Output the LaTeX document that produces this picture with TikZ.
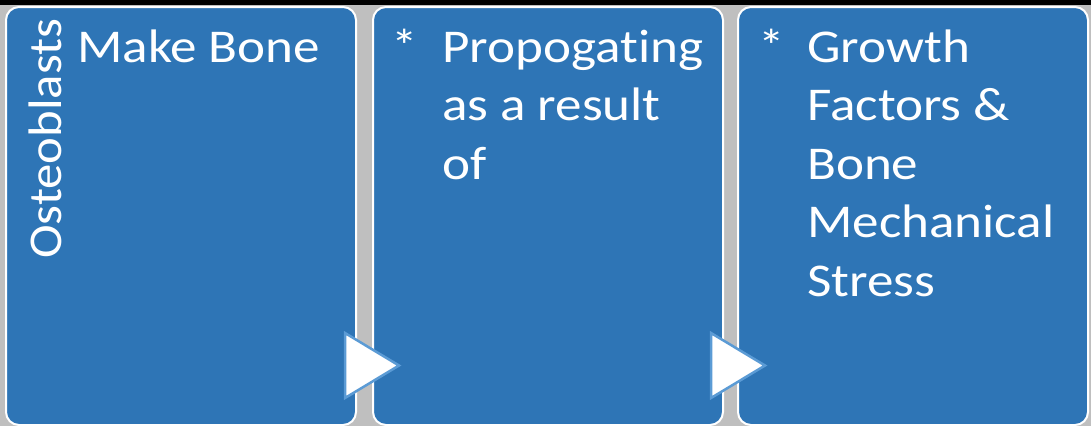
\documentclass[tikz,border=0pt]{standalone}
\usepackage{fontspec}
\setmainfont{Carlito}
\newfontfamily\widefont[FakeStretch=1.13,Ligatures={NoCommon}]{Carlito}
\newfontfamily\vertfont[FakeStretch=1.08,Ligatures={NoCommon}]{Carlito}
\definecolor{boxblue}{HTML}{2E75B6}
\definecolor{triblue}{HTML}{5B9BD5}
\definecolor{bggray}{HTML}{BFBFBF}
\begin{document}
\begin{tikzpicture}[x=1pt,y=-1pt,
  box/.style={draw=white, line width=2pt, fill=boxblue, rounded corners=13pt,
    minimum width=350pt, minimum height=418pt, anchor=north west, inner sep=0pt},
  txt/.style={text=white, font=\widefont\fontsize{47}{58.5}\selectfont, inner sep=0pt,
    align=left, anchor=north west},
  tri/.style={fill=white, draw=triblue, line width=2.5pt, line join=miter}]
\useasboundingbox (0,0) rectangle (1091,426);
\fill[black] (0,0) rectangle (1091,426);
\fill[bggray] (0,5) rectangle (1091,426);
\node[box] (b1) at (5,6) {};
\node[box] (b2) at (372,6) {};
\node[box] (b3) at (737,6) {};
\draw[tri] (345,333) -- (345,398) -- (399,365.5) -- cycle;
\draw[tri] (711,333) -- (711,398) -- (765,365.5) -- cycle;
\node[txt, font=\vertfont\fontsize{47}{58.5}\selectfont, anchor=base west, rotate=90] (t0) at (61,259) {Osteoblasts};
\node[txt] (t1) at (77,26) {\rule{0pt}{36pt}Make Bone};
\node[txt] (s2) at (391,26) {\rule{0pt}{36pt}*};
\node[txt] (t2) at (442,26) {\rule{0pt}{36pt}Propogating\\as a result\\of};
\node[txt] (s3) at (758,26) {\rule{0pt}{36pt}*};
\node[txt] (t3) at (807,26) {\rule{0pt}{36pt}Growth\\Factors \&\\Bone\\Mechanical\\Stress};
\end{tikzpicture}
\end{document}
